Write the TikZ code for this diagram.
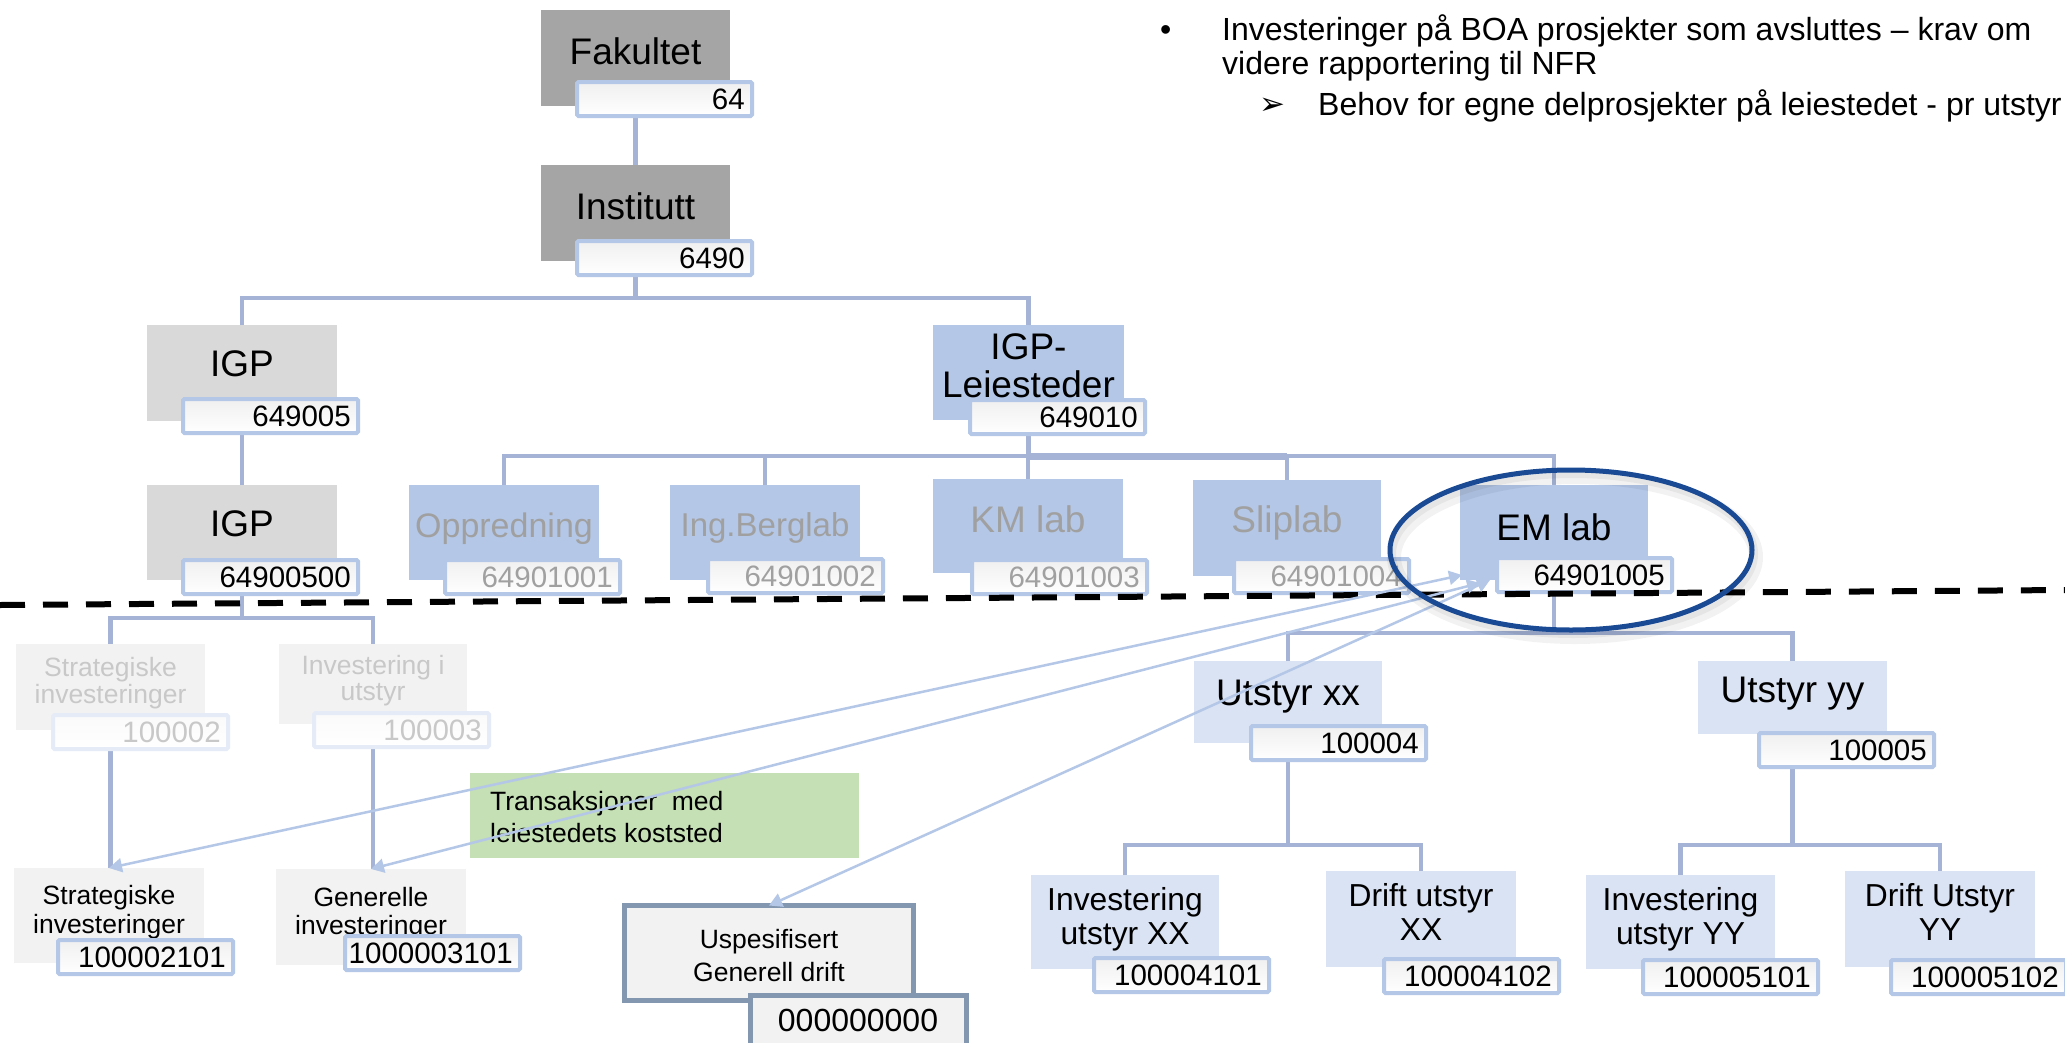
\documentclass[tikz,border=0pt]{standalone}
\usepackage{fontspec}
\setmainfont{Liberation Sans}
\newfontfamily\dejavu{DejaVu Sans}
\usetikzlibrary{fit,arrows.meta}
\definecolor{dgray}{HTML}{A5A5A5}
\definecolor{lgray}{HTML}{D9D9D9}
\definecolor{lblue}{HTML}{B4C7E7}
\definecolor{pblue}{HTML}{DAE3F3}
\definecolor{faint}{HTML}{F2F2F2}
\definecolor{connc}{HTML}{A4B3D6}
\definecolor{numc}{HTML}{B4C7E7}
\definecolor{numfade}{HTML}{E6ECF7}
\definecolor{txtgray}{HTML}{A0A0A0}
\definecolor{txtfade}{HTML}{C8C8C8}
\definecolor{uspc}{HTML}{8497B0}
\definecolor{greenc}{HTML}{C5E0B4}
\definecolor{ellc}{HTML}{1B4A94}
\definecolor{arrc}{HTML}{B4C7E7}
\newcommand\orgbx[6]{\node[bxs,fill=#1,fit={(#3,#4) (#5,#6)}] (#2) {};}
\newcommand\orgnum[6]{%
  \node[numb,#1,fit={({#4+2},{#5+2}) ({#4+177},{#5+36})}] (#3) {};
  \node[numt,#2] (#3t) at ([xshift=-7pt]#3.east) {#6};}
\newcommand\orglab[5]{\node[lab,#1] (#2) at (#3,#4) {#5};}
\begin{document}
\begin{tikzpicture}[x=1pt,y=-1pt,
  bxs/.style={inner sep=0pt,outer sep=0pt,draw=none},
  numb/.style={draw=numc,line width=4pt,inner sep=0pt,outer sep=0pt,rounded corners=1.5pt,top color=black!6,bottom color=white},
  numfaded/.style={draw=numfade,top color=black!2,bottom color=white},
  numt/.style={anchor=east,inner sep=0pt,font=\fontsize{29.5}{30}\selectfont},
  lab/.style={anchor=north,inner sep=0pt,align=center},
  fbig/.style={font=\fontsize{37}{38}\selectfont},
  fmid/.style={font=\fontsize{31.8}{34}\selectfont},
  conn/.style={draw=connc,line width=4.5pt},
  arr/.style={draw=arrc,line width=2.5pt,arrows={Triangle[length=13pt,width=14pt]-Triangle[length=13pt,width=14pt]}},
  dashline/.style={draw=black,line width=6pt,dash pattern=on 25pt off 18pt},
  ell/.style={draw=ellc,line width=5pt}]
\fill[white] (0,0) rectangle (2065,1042);
\useasboundingbox (0,0) rectangle (2065,1042);

% ---------- boxes ----------
\orgbx{dgray}{fak}{541}{10}{730}{106}
\orgbx{dgray}{inst}{541}{165}{730}{261}
\orgbx{lgray}{igp}{147}{325}{337}{421}
\orgbx{lgray}{igpb}{147}{485}{337}{580}
\orgbx{lblue}{igpl}{933}{325}{1124}{420}
\orgbx{lblue}{opp}{409}{485}{599}{580}
\orgbx{lblue}{ing}{670}{485}{860}{580}
\orgbx{lblue}{km}{933}{479}{1123}{573}
\orgbx{lblue}{sl}{1193}{480}{1381}{576}
\orgbx{lblue}{em}{1460}{485}{1648}{580}
\orgbx{faint}{stT}{16}{644}{205}{730}
\orgbx{faint}{invT}{279}{644}{467}{724}
\orgbx{faint}{stB}{14}{868}{204}{963}
\orgbx{faint}{gen}{276}{869}{466}{965}
\orgbx{pblue}{ux}{1194}{661}{1382}{743}
\orgbx{pblue}{uy}{1698}{661}{1887}{734}
\orgbx{pblue}{ix}{1031}{875}{1219}{969}
\orgbx{pblue}{dx}{1326}{871}{1516}{967}
\orgbx{pblue}{iy}{1586}{875}{1775}{969}
\orgbx{pblue}{dy}{1845}{871}{2035}{967}
\orgbx{greenc}{grn}{470}{773}{859}{858}
\node[bxs,draw=uspc,line width=5pt,fill=faint,fit={(624.5,905.5) (913.5,1000.5)}] (usp) {};

% ---------- connectors ----------
\coordinate (j1) at (635.5,298);
\coordinate (j2) at (1028.5,456);
\coordinate (j3) at (242,618);
\coordinate (j4) at (1554,633);
\coordinate (j5) at (1288,845);
\coordinate (j6) at (1792.5,845);
\draw[conn] (fak.south) -- (inst.north);
\draw[conn] (inst.south) -- (j1);
\draw[conn] (igp.north) |- (j1) -| (igpl.north);
\draw[conn] (igp.south) -- (igpb.north);
\draw[conn] (igpl.south) -- (j2);
\draw[conn] (opp.north) |- (j2) -| (em.north);
\draw[conn] (ing.north) -- (ing.north |- j2);
\draw[conn] (km.north) -- (km.north |- j2);
\draw[conn] (sl.north) -- (sl.north |- j2);
\draw[conn,line width=7pt] (j2) -- (sl.north |- j2);
\draw[conn] (igpb.south) -- (j3);
\draw[conn] (stT.north) |- (j3) -| (invT.north);
\draw[conn] (stT.south) -- (stT.south |- stB.north);
\draw[conn] (invT.south) -- (invT.south |- gen.north);
\draw[conn] (em.south) -- (j4);
\draw[conn] (ux.north) |- (j4) -| (uy.north);
\draw[conn] (ux.south) -- (j5);
\draw[conn] (ix.north) |- (j5) -| (dx.north);
\draw[conn] (uy.south) -- (j6);
\draw[conn] (iy.north) |- (j6) -| (dy.north);

% ---------- labels ----------
\orglab{fbig}{fakL}{635.5}{37}{Fakultet}
\orglab{fbig}{instL}{635.5}{192}{Institutt}
\orglab{fbig}{igpL}{242}{350}{IGP}
\orglab{fbig}{igpbL}{242}{510}{IGP}
\orglab{fbig}{igplL}{1028.5}{333}{IGP-\\Leiesteder}
\orglab{font=\fontsize{34}{36}\selectfont,text=txtgray}{oppL}{504}{513}{Oppredning}
\orglab{font=\fontsize{33}{36}\selectfont,text=txtgray}{ingL}{765}{512}{Ing.Berglab}
\orglab{fbig,text=txtgray}{kmL}{1028}{505}{KM lab}
\orglab{fbig,text=txtgray}{slL}{1287}{505}{Sliplab}
\orglab{fbig}{emL}{1554}{513}{EM lab}
\orglab{font=\fontsize{26.5}{27}\selectfont,text=txtfade}{stTL}{110.5}{657}{Strategiske\\investeringer}
\orglab{font=\fontsize{26.5}{26}\selectfont,text=txtfade}{invTL}{373}{655}{Investering i\\utstyr}
\orglab{font=\fontsize{26.5}{29}\selectfont}{stBL}{109}{885}{Strategiske\\investeringer}
\orglab{font=\fontsize{26.5}{28}\selectfont}{genL}{371}{887}{Generelle\\investeringer}
\orglab{fbig}{uxL}{1288}{680}{Utstyr xx}
\orglab{fbig}{uyL}{1792.5}{677}{Utstyr yy}
\orglab{fmid}{ixL}{1125}{887}{Investering\\utstyr XX}
\orglab{fmid}{dxL}{1421}{883}{Drift utstyr\\XX}
\orglab{fmid}{iyL}{1680.5}{887}{Investering\\utstyr YY}
\orglab{fmid}{dyL}{1940}{883}{Drift Utstyr\\YY}
\node[inner sep=0pt,anchor=north west,align=left,font=\fontsize{26.5}{32}\selectfont] (grnL) at (490,791) {Transaksjoner\ \ med\\leiestedets koststed};
\orglab{font=\fontsize{26.5}{33}\selectfont}{uspL}{769}{929}{Uspesifisert\\Generell drift}

% ---------- number boxes ----------
\orgnum{}{}{fakN}{575}{80}{64}
\orgnum{}{}{instN}{575}{239}{6490}
\orgnum{}{}{igpN}{181}{397}{649005}
\orgnum{}{}{igpbN}{181}{558}{64900500}
\orgnum{}{}{igplN}{968}{398}{649010}
\orgnum{}{text=txtgray}{oppN}{443}{558}{64901001}
\orgnum{}{text=txtgray}{ingN}{706}{557}{64901002}
\orgnum{}{text=txtgray}{kmN}{970}{558}{64901003}
\orgnum{}{text=txtgray}{slN}{1232}{557}{64901004}
\orgnum{}{}{emN}{1495}{556}{64901005}
\orgnum{numfaded}{text=txtfade}{stTN}{51}{713}{100002}
\orgnum{numfaded}{text=txtfade}{invTN}{312}{711}{100003}
\orgnum{}{}{stBN}{56}{938}{100002101}
\orgnum{}{}{genN}{343}{934}{1000003101}
\orgnum{}{}{uxN}{1249}{724}{100004}
\orgnum{}{}{uyN}{1757}{731}{100005}
\orgnum{}{}{ixN}{1092}{956}{100004101}
\orgnum{}{}{dxN}{1382}{957}{100004102}
\orgnum{}{}{iyN}{1641}{958}{100005101}
\orgnum{}{}{dyN}{1889}{958}{100005102}
\node[bxs,draw=uspc,line width=5pt,fill=faint,fit={(750.5,995.5) (966.5,1052)}] (uspN) {};
\node[lab,font=\fontsize{32}{32}\selectfont] (uspNt) at (858,1009) {000000000};

% ---------- bullet text ----------
\node[inner sep=0pt,anchor=base west,font=\fontsize{32}{32}\selectfont] (bul1) at (1160,40) {•};
\node[inner sep=0pt,anchor=base west,font=\fontsize{32}{32}\selectfont] (t1) at (1222,40) {Investeringer på BOA prosjekter som avsluttes – krav om};
\node[inner sep=0pt,anchor=base west,font=\fontsize{32}{32}\selectfont] (t2) at (1222,74) {videre rapportering til NFR};
\node[inner sep=0pt,anchor=base west,font=\dejavu\fontsize{31}{31}\selectfont] (bul2) at (1259,114) {➢};
\node[inner sep=0pt,anchor=base west,font=\fontsize{32}{32}\selectfont] (t3) at (1318,115) {Behov for egne delprosjekter på leiestedet - pr utstyr};

% ---------- dashed divider ----------
\coordinate (dl) at (0,605);
\coordinate (dr) at (2065,590);
\draw[dashline] (dl) -- (dr);

% ---------- arrows ----------
\coordinate (eA) at (1462,575);
\coordinate (eB) at (1480,583);
\coordinate (eC) at (1490,580);
\draw[arr] (eA) -- (stB.north);
\draw[arr] (eB) -- (gen.north);
\draw[arr] (eC) -- (usp.north);

% ---------- highlight ellipse ----------
\draw[black,opacity=0.05,line width=14pt] (1575,557) ellipse [x radius=181, y radius=80];
\draw[black,opacity=0.05,line width=8pt] (1573,554) ellipse [x radius=181, y radius=80];
\draw[ell] (1571,550) ellipse [x radius=181, y radius=80];
\end{tikzpicture}
\end{document}
